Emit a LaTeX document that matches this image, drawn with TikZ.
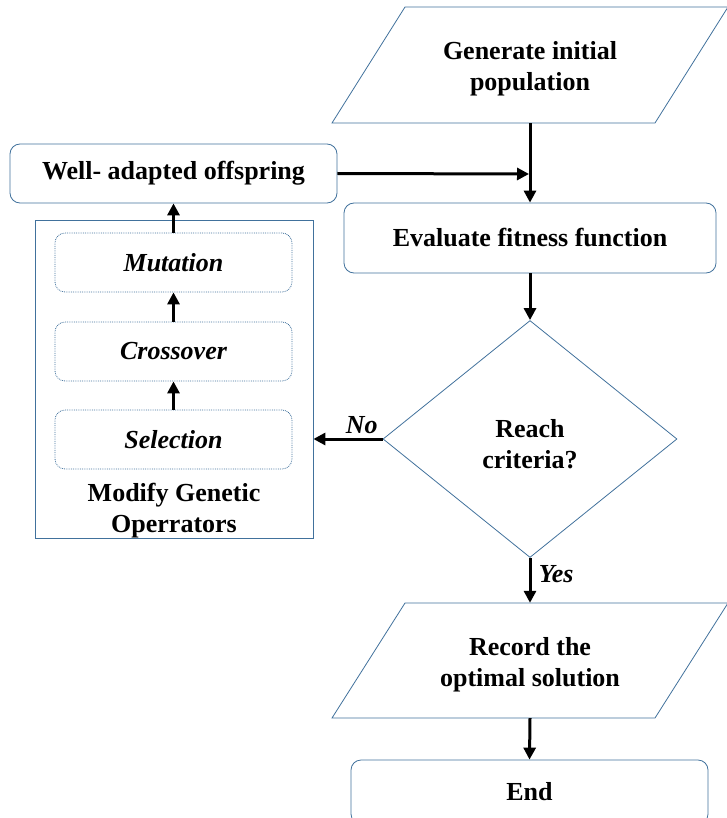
\documentclass[tikz,border=0pt]{standalone}
\usepackage{fontspec}
\setmainfont{Liberation Serif}
\usetikzlibrary{arrows.meta,shapes.geometric}
\definecolor{boxblue}{RGB}{65,113,156}
\tikzset{
  every node/.style={font=\fontsize{26}{31}\selectfont\bfseries},
  rbox/.style={draw=boxblue, line width=0.8pt, rounded corners=10pt, inner sep=0pt},
  opbox/.style={draw=boxblue, line width=0.8pt, densely dotted, rounded corners=10pt,
    minimum width=237pt, minimum height=59pt, font=\fontsize{26}{31}\selectfont\bfseries\itshape},
  flow/.style={line width=3pt, -{Triangle[length=12pt,width=12pt]}},
}
\begin{document}
\begin{tikzpicture}[x=1pt, y=-1pt]
  \useasboundingbox (0, 0) rectangle (726, 818);

  \draw[boxblue, line width=0.8pt] (332, 123) -- (405, 7) -- (728, 7) -- (655, 123) -- cycle;
  \node[minimum height=116pt, inner sep=0pt, align=center] (gen) at (530, 65) {};
  \node[align=center] (gentxt) at (530, 69) {Generate initial\\population};

  \node[rbox, minimum width=327pt, minimum height=59pt] (well) at (173.5, 173.5) {Well- adapted offspring};
  \node[rbox, minimum width=372pt, minimum height=70pt] (eval) at (530, 238) {Evaluate fitness function};

  \node[diamond, draw=boxblue, line width=0.8pt, minimum width=294pt, minimum height=237pt,
    inner sep=0pt] (reach) at (530, 439) {};
  \node[align=center] (reachtxt) at (530, 444) {Reach\\criteria?};

  \node[draw=boxblue, line width=0.8pt, minimum width=278pt, minimum height=318pt] (modify) at (174, 379) {};
  \node[opbox] (mut) at (173.5, 262.5) {Mutation};
  \node[opbox] (cross) at (173.5, 351.5) {Crossover};
  \node[opbox] (sel) at (173.5, 439.5) {Selection};
  \node[align=center] (modtxt) at (174, 511) {Modify Genetic\\Operrators};

  \draw[boxblue, line width=0.8pt] (332, 718) -- (405, 603) -- (728, 603) -- (655, 718) -- cycle;
  \node[minimum height=115pt, inner sep=0pt] (rec) at (530, 660.5) {};
  \node[align=center] (rectxt) at (530, 665) {Record the\\optimal solution};

  \node[rbox, minimum width=357pt, minimum height=64pt] (end) at (529.5, 792) {End};

  \coordinate (join) at (529, 174);

  \draw[flow] (gen.south) -- (eval.north);
  \draw[flow] (well.east) -- (join);
  \draw[flow] (eval.south) -- (reach.north);
  \draw[flow] (reach.west) -- (reach.west -| modify.east)
    node[pos=0.3, above=0pt, font=\fontsize{26}{31}\selectfont\bfseries\itshape] {No};
  \draw[flow] (reach.south) -- (rec.north)
    node[pos=0.35, right=4pt, font=\fontsize{26}{31}\selectfont\bfseries\itshape] {Yes};
  \draw[flow] (rec.south) -- (end.north);

  \draw[flow] (sel.north) -- (cross.south);
  \draw[flow] (cross.north) -- (mut.south);
  \draw[flow] (mut.north) -- (well.south);
\end{tikzpicture}
\end{document}
